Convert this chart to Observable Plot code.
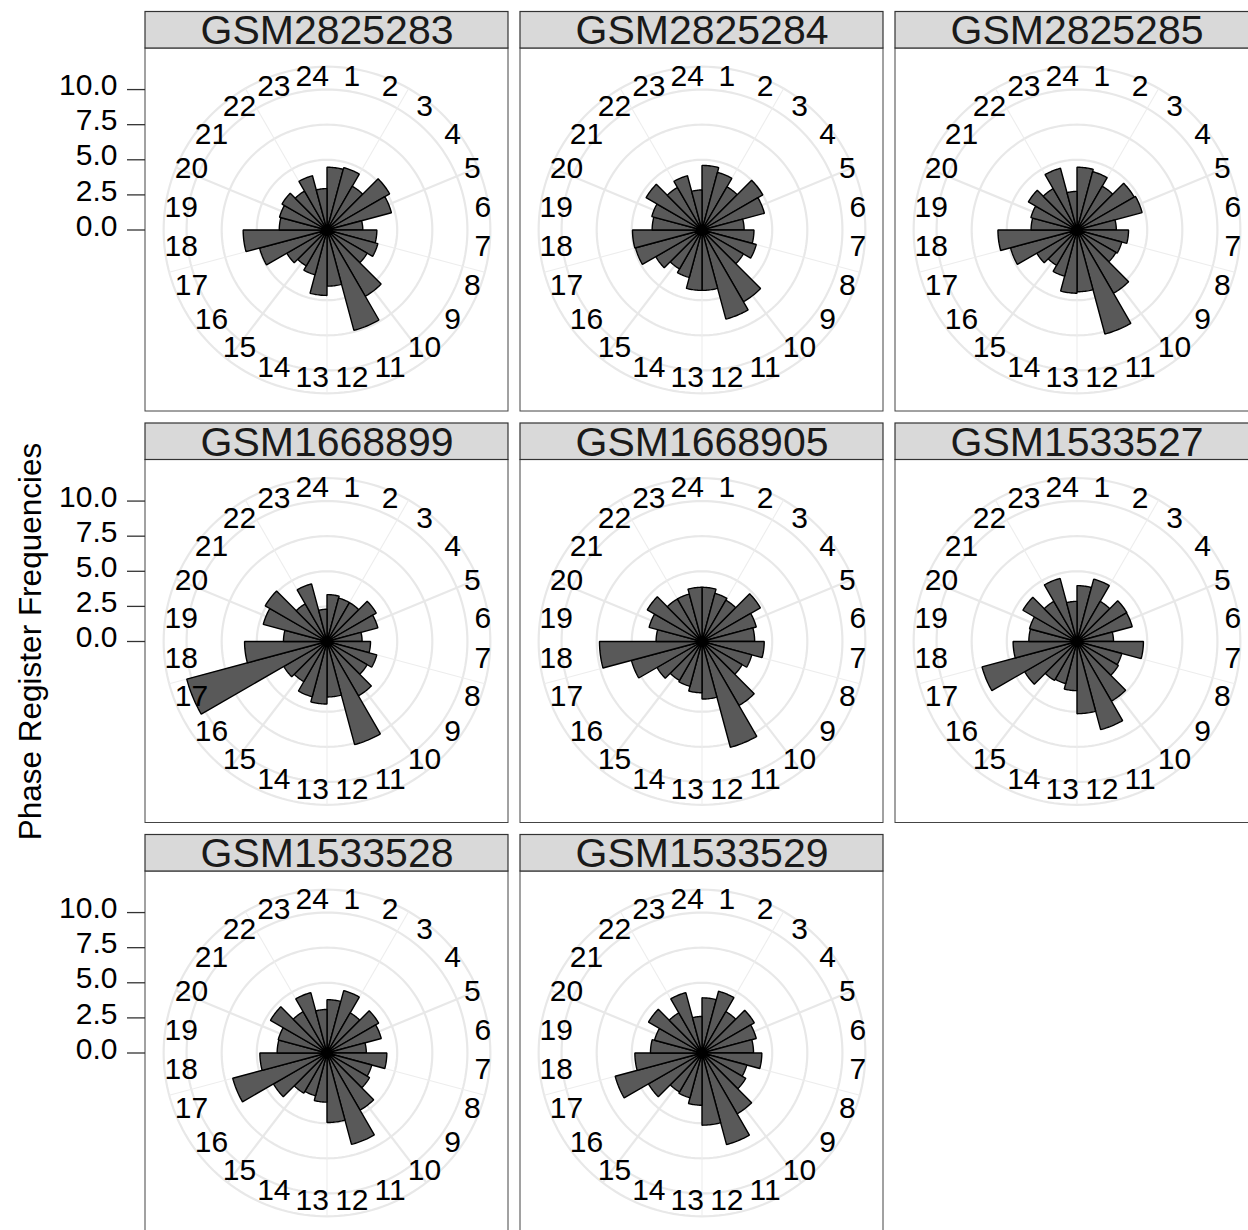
<!DOCTYPE html>
<html>
<head>
<meta charset="utf-8">
<script src="https://cdn.jsdelivr.net/npm/d3@7"></script>
<script src="https://cdn.jsdelivr.net/npm/@observablehq/plot@0.6"></script>
<style>
  html, body { margin: 0; padding: 0; background: #fff; overflow: hidden; }
  #chart { width: 1248px; height: 1230px; overflow: hidden; }
  #chart svg { max-width: none !important; display: block; }
</style>
</head>
<body>
<div id="chart"></div>
<script>
// ---- data -------------------------------------------------------------
const samples = ["GSM2825283", "GSM2825284", "GSM2825285", "GSM1668899",
                 "GSM1668905", "GSM1533527", "GSM1533528", "GSM1533529"];
const hours = [1,2,3,4,5,6,7,8,9,10,11,12,13,14,15,16,17,18,19,20,21,22,23,24];
const hourLabels = ["1","2","3","4","5","6","7","8","9","10","11","12",
                    "13","14","15","16","17","18","19","20","21","22","23","24"];
const rTicks = [0, 2.5, 5, 7.5, 10];
const yTitle = "Phase Register Frequencies";

const GSM2825283 = [4.47, 4.6, 3.6, 5.15, 4.75, 2.55, 3.55, 3.75, 3.3, 5.45, 7.4, 4.0, 4.66, 3.3, 2.95, 3.3, 4.97, 5.97, 3.4, 3.5, 3.7, 3.2, 4.0, 2.95];
const GSM2825284 = [4.6, 4.25, 3.55, 5.0, 4.6, 3.0, 3.7, 4.0, 3.4, 5.9, 6.57, 4.3, 4.3, 3.5, 3.2, 3.8, 4.9, 4.95, 3.55, 3.7, 4.6, 3.5, 4.0, 2.85];
const GSM2825285 = [4.47, 4.3, 3.6, 4.7, 4.8, 2.8, 3.67, 3.3, 3.2, 5.2, 7.67, 4.4, 4.5, 3.4, 2.9, 3.3, 4.9, 5.63, 3.27, 3.4, 4.0, 3.4, 4.55, 2.75];
const GSM1668899 = [3.34, 3.2, 3.2, 4.05, 3.75, 2.5, 3.1, 3.67, 3.3, 4.47, 7.6, 3.95, 4.45, 4.07, 3.3, 3.55, 10.34, 5.87, 3.1, 4.7, 5.08, 3.1, 4.25, 2.3];
const GSM1668905 = [3.86, 3.55, 3.4, 4.8, 4.0, 3.75, 4.43, 3.67, 3.3, 5.26, 7.8, 4.1, 3.65, 3.3, 3.2, 3.7, 5.2, 7.3, 3.27, 3.9, 4.5, 3.5, 3.5, 3.86];
const GSM1533527 = [3.98, 4.6, 3.3, 4.1, 4.07, 2.6, 4.73, 3.3, 3.4, 4.9, 6.5, 5.14, 3.5, 3.1, 3.2, 4.3, 7.0, 4.55, 3.43, 3.5, 4.45, 3.3, 4.65, 2.86];
const GSM1533528 = [3.8, 4.6, 3.3, 4.25, 4.0, 2.8, 4.26, 3.3, 3.5, 4.7, 6.74, 4.95, 3.5, 3.15, 3.3, 4.4, 6.95, 4.78, 3.55, 3.6, 4.65, 3.4, 4.45, 3.1];
const GSM1533529 = [3.93, 4.55, 3.4, 4.3, 4.0, 3.67, 4.26, 3.3, 3.6, 5.0, 6.75, 5.14, 3.72, 3.3, 3.2, 4.4, 6.4, 4.78, 3.67, 3.5, 4.4, 3.3, 4.45, 2.6];

const series = [GSM2825283, GSM2825284, GSM2825285, GSM1668899,
                GSM1668905, GSM1533527, GSM1533528, GSM1533529];

// ---- derived geometry (polar -> cartesian in data units) ---------------
const NCOL = 3;
const panels = samples.map((s, i) => ({sample: s, col: i % NCOL, row: Math.floor(i / NCOL)}));
const bars = panels.flatMap((p, i) => hours.map((h, j) => ({...p, hour: h, value: series[i][j]})));
const rMax = d3.max(bars, d => d.value);        // r scale maps [0, rMax] -> 0.4 of panel
const half = rMax / 0.8;                         // half panel size in data units
const outerR = rMax * 0.45 / 0.4;                // outer grid circle
const labelR = rMax * 1.047;                     // theta labels
const stripH = half * 2 * 36.5 / 363;            // strip height in data units
const TAU = 2 * Math.PI;
const thetaOf = h => (h - 0.5) / 24 * TAU;       // continuous theta, range [0.5, 24.5]

const wedgePts = bars.flatMap((d, k) => {
  const a0 = (d.hour - 1) / 24 * TAU, a1 = d.hour / 24 * TAU, n = 12;
  const pts = [{...d, id: k, px: 0, py: 0}];
  for (let s = 0; s <= n; ++s) {
    const a = a0 + (a1 - a0) * s / n;
    pts.push({...d, id: k, px: d.value * Math.sin(a), py: d.value * Math.cos(a)});
  }
  return pts;
});

const circleRadii = rTicks.filter(r => r > 0).concat([outerR]);
const circlePts = panels.flatMap((p, i) => circleRadii.flatMap((r, j) =>
  d3.range(180).map(s => ({...p, cid: i * 10 + j, px: r * Math.sin(s / 180 * TAU), py: r * Math.cos(s / 180 * TAU)}))));

const majorTheta = [5, 10, 15, 20];
const minorTheta = [2.5, 7.5, 12.5, 17.5, 22.5];
const spokes = (list) => panels.flatMap(p => list.map(h => ({...p, x2: outerR * Math.sin(thetaOf(h)), y2: outerR * Math.cos(thetaOf(h))})));

const labels = panels.flatMap(p => hours.map((h, j) => ({...p, text: hourLabels[j],
  px: labelR * Math.sin(thetaOf(h)), py: labelR * Math.cos(thetaOf(h))})));

// ---- plot ---------------------------------------------------------------
const chart = Plot.plot({
  width: 1258,
  height: 1234,
  marginLeft: 145,
  marginRight: 0,
  marginTop: 48,
  marginBottom: 0,
  style: {fontFamily: "'Liberation Sans', Arial, Helvetica, sans-serif", background: "#fff", overflow: "visible", maxWidth: "none"},
  fx: {domain: [0, 1, 2], axis: null, paddingInner: 12 / 375, paddingOuter: 0, round: false},
  fy: {domain: [0, 1, 2], axis: null, paddingInner: 48.5 / 411.5, paddingOuter: 0, round: false},
  x: {domain: [-half, half], axis: null},
  y: {domain: [-half, half]},
  marks: [
    Plot.rect(panels, {x1: () => -half, x2: () => half, y1: () => -half, y2: () => half, fx: "col", fy: "row", fill: "#fff"}),
    // grid
    Plot.line(circlePts, {x: "px", y: "py", z: "cid", fx: "col", fy: "row", curve: "linear-closed", stroke: "#e8e8e8", strokeWidth: 2.2}),
    Plot.link(spokes(minorTheta), {x1: () => 0, y1: () => 0, x2: "x2", y2: "y2", fx: "col", fy: "row", stroke: "#ededed", strokeWidth: 1.1}),
    Plot.link(spokes(majorTheta), {x1: () => 0, y1: () => 0, x2: "x2", y2: "y2", fx: "col", fy: "row", stroke: "#e8e8e8", strokeWidth: 2.2}),
    // bars
    Plot.line(wedgePts, {x: "px", y: "py", z: "id", fx: "col", fy: "row", curve: "linear-closed",
      fill: "#595959", stroke: "#000", strokeWidth: 1.4, strokeLinejoin: "miter"}),
    // theta labels
    Plot.text(labels, {x: "px", y: "py", text: "text", fx: "col", fy: "row", dx: 5, dy: -3,
      fontSize: 30, fill: "#000"}),
    // panel border
    Plot.rect(panels, {x1: () => -half, x2: () => half, y1: () => -half, y2: () => half, fx: "col", fy: "row",
      fill: "none", stroke: "#444", strokeWidth: 1}),
    // strips
    Plot.rect(panels, {x1: () => -half, x2: () => half, y1: () => half, y2: () => half + stripH, fx: "col", fy: "row",
      fill: "#d9d9d9", stroke: "#333", strokeWidth: 1.2}),
    Plot.text(panels, {x: () => 0, y: () => half + stripH / 2, text: "sample", fx: "col", fy: "row",
      fontSize: 41, fill: "#1a1a1a", dy: 1}),
    // radial axis (left column only)
    Plot.axisY(rTicks, {tickSize: 18, fill: "none", stroke: "#333", strokeWidth: 1.3}),
    Plot.axisY(rTicks, {tickSize: 18, tickPadding: 10, stroke: "none", fill: "#000", fontSize: 30, dy: -4,
      tickFormat: d3.format(".1f")}),
    // axis title
    Plot.text([yTitle], {fx: () => 0, fy: () => 1, frameAnchor: "left", textAnchor: "middle", dx: -115, rotate: -90,
      fontSize: 31.5, fill: "#000"})
  ]
});
document.getElementById("chart").appendChild(chart);
</script>
</body>
</html>
